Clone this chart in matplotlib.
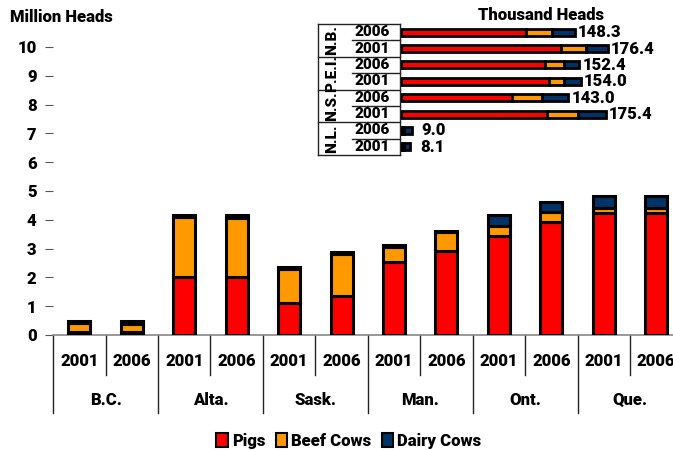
import matplotlib.pyplot as plt
import matplotlib as mpl
from matplotlib.transforms import blended_transform_factory
from matplotlib.patches import Patch
import numpy as np

mpl.rcParams['font.family'] = ['Roboto', 'DejaVu Sans']
mpl.rcParams['font.weight'] = 'heavy'
mpl.rcParams['font.size'] = 12

# Main chart data (million heads)
regions = ['B.C.', 'Alta.', 'Sask.', 'Man.', 'Ont.', 'Que.']
years = ['2001', '2006']
pigs = [0.12, 0.09, 2.00, 2.02, 1.10, 1.37, 2.52, 2.92, 3.44, 3.93, 4.23, 4.23]
beef = [0.28, 0.30, 2.08, 2.03, 1.20, 1.45, 0.55, 0.64, 0.36, 0.35, 0.18, 0.17]
dairy = [0.08, 0.08, 0.10, 0.10, 0.05, 0.05, 0.06, 0.06, 0.37, 0.35, 0.42, 0.41]

# Inset data (thousand heads), top to bottom
inset_regions = ['N.B.', 'P.E.I.', 'N.S.', 'N.L.']
inset_years = ['2006', '2001', '2006', '2001', '2006', '2001', '2006', '2001']
inset_pigs = [107.0, 137.0, 123.0, 126.0, 95.0, 125.0, 2.0, 2.0]
inset_beef = [22.0, 21.0, 16.0, 13.6, 25.8, 26.5, 0.5, 0.4]
inset_dairy = [19.3, 18.4, 13.4, 14.4, 22.2, 23.9, 6.5, 5.7]
inset_totals = ['148.3', '176.4', '152.4', '154.0', '143.0', '175.4', '9.0', '8.1']

RED = '#ff0000'
ORANGE = '#ff9900'
NAVY = '#003366'

fig = plt.figure(figsize=(6.73, 4.5), dpi=100)
ax = fig.add_axes([0.079, 0.2556, 0.935, 0.64])

x = np.arange(len(pigs))
w = 0.42
kw = dict(width=w, edgecolor='black', linewidth=2.2, zorder=3)
ax.bar(x, pigs, color=RED, **kw)
ax.bar(x, beef, bottom=pigs, color=ORANGE, **kw)
ax.bar(x, dairy, bottom=np.add(pigs, beef), color=NAVY, **kw)

ax.set_xlim(-0.5, len(pigs) - 0.5)
ax.set_ylim(0, 10)
ax.set_yticks(range(11))
ax.set_xticks([])
for s in ['top', 'right', 'left']:
    ax.spines[s].set_visible(False)
ax.spines['bottom'].set_color('#888888')
ax.spines['bottom'].set_linewidth(1.2)
ax.tick_params(axis='y', length=6, color='#555555', labelsize=12, pad=6)

tr = blended_transform_factory(ax.transData, ax.transAxes)
for i in range(len(pigs)):
    ax.text(i, -0.09, years[i % 2], transform=tr, ha='center', va='center')
for j, r in enumerate(regions):
    ax.text(2 * j + 0.5, -0.226, r, transform=tr, ha='center', va='center')
for k in range(len(pigs) + 1):
    end = -0.271 if k % 2 == 0 else -0.139
    ax.plot([k - 0.5, k - 0.5], [0, end], transform=tr, color='#222222',
            lw=1, clip_on=False)

fig.text(0.015, 0.962, 'Million Heads', ha='left', va='center')

# Inset horizontal bars
ax2 = fig.add_axes([401 / 673, 1 - 155 / 450, 0.348, 131 / 450])
y = np.arange(len(inset_pigs))
hk = dict(height=0.42, edgecolor='black', linewidth=2, zorder=3)
ax2.barh(y, inset_pigs, color=RED, **hk)
ax2.barh(y, inset_beef, left=inset_pigs, color=ORANGE, **hk)
ax2.barh(y, inset_dairy, left=np.add(inset_pigs, inset_beef), color=NAVY, **hk)
totals = np.add(np.add(inset_pigs, inset_beef), inset_dairy)
for yi, t, lab in zip(y, totals, inset_totals):
    ax2.annotate(lab, (t, yi), xytext=(2 if t > 50 else 7, 0),
                 textcoords='offset points', ha='left', va='center', fontsize=12)
ax2.set_xlim(0, 200)
ax2.set_ylim(len(y) - 0.5, -0.5)
ax2.axis('off')

tr2 = blended_transform_factory(fig.transFigure, ax2.transData)
xl, xm, xr = 318 / 673, 352 / 673, 400 / 673
lkw = dict(transform=tr2, color='#222222', lw=1, clip_on=False)
ax2.plot([xl, xl], [-0.5, len(y) - 0.5], **lkw)
ax2.plot([xr, xr], [-0.5, len(y) - 0.5], **lkw)
for b in range(len(y) + 1):
    left = xl if b % 2 == 0 else xm
    ax2.plot([left, xr], [b - 0.5, b - 0.5], **lkw)
for yi, yr in zip(y, inset_years):
    ax2.text(372 / 673, yi, yr, transform=tr2, ha='center', va='center', fontsize=11)
for j, r in enumerate(inset_regions):
    ax2.text(332 / 673, 2 * j + 0.5, r, transform=tr2, ha='center', va='center',
             rotation=90, fontsize=11)

fig.text(541 / 673, 1 - 15 / 450, 'Thousand Heads', ha='center', va='center')

handles = [Patch(facecolor=c, edgecolor='black', linewidth=1.5)
           for c in [RED, ORANGE, NAVY]]
fig.legend(handles, ['Pigs', 'Beef Cows', 'Dairy Cows'], loc='center',
           bbox_to_anchor=(349 / 673, 1 - 441 / 450), ncol=3, frameon=False,
           handlelength=0.7, handleheight=0.9, handletextpad=0.25,
           columnspacing=0.6, fontsize=12)

fig.savefig('out.png', dpi=100)
